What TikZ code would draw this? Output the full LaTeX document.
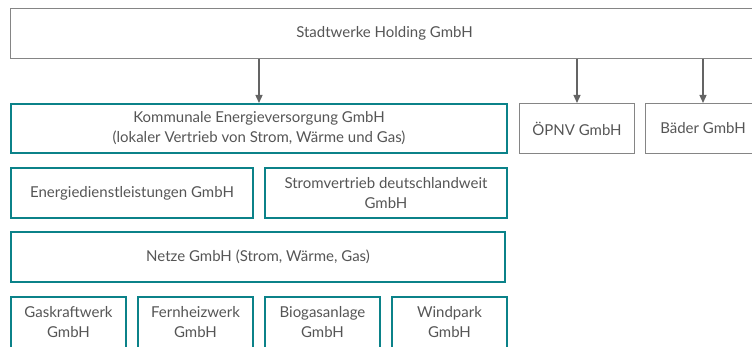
\documentclass[tikz,border=0pt]{standalone}
\usepackage{fontspec}
\setmainfont{Lato}
\usetikzlibrary{%
	positioning,
	arrows.meta
}
\definecolor{tealline}{HTML}{0B8289}
\definecolor{grayline}{HTML}{858585}
\definecolor{arrowgray}{HTML}{646464}
\definecolor{textgray}{HTML}{555555}

\begin{document}
\begin{tikzpicture}[x=1pt,y=1pt,
		SBox/.style={draw,shape=rectangle,text=textgray,font=\fontsize{15}{20}\selectfont,align=center,inner sep=0pt,minimum height=50pt},
		SGroup/.style={SBox,draw=grayline,line width=1pt},
		SEnergy/.style={SBox,draw=tealline,line width=2pt},
		SPlant/.style={SEnergy,minimum width=115pt,minimum height=60pt,text depth=10pt},
		link/.style={draw=arrowgray,line width=1.3pt,-{Triangle[length=8pt,width=7pt]}}
	]
	\useasboundingbox (0,0) rectangle (752,-347);

	%Holding
	\node(holding) [SGroup, minimum width=748pt, anchor=north west] at (10,-8) {Stadtwerke Holding GmbH};

	\node(kommunal) [SEnergy, minimum width=496pt, minimum height=49pt, below=44pt of holding.south west, anchor=north west] {Kommunale Energieversorgung GmbH\\(lokaler Vertrieb von Strom, Wärme und Gas)};
	\node(oepnv) [SGroup, minimum width=115pt, right=11pt of kommunal.north east, anchor=north west] {ÖPNV GmbH};
	\node(baeder) [SGroup, minimum width=115pt, right=10pt of oepnv.north east, anchor=north west] {Bäder GmbH};

	\draw [link] (holding.south -| kommunal.north) -- (kommunal.north);
	\draw [link] (holding.south -| oepnv.north) -- (oepnv.north);
	\draw [link] (holding.south -| baeder.north) -- (baeder.north);

	%Energie
	\node(dienst) [SEnergy, minimum width=242pt, below=13pt of kommunal.south west, anchor=north west] {Energiedienstleistungen GmbH};
	\node(strom) [SEnergy, minimum width=242pt, right=10pt of dienst.north east, anchor=north west] {Stromvertrieb deutschlandweit\\GmbH};
	\node(netze) [SEnergy, minimum width=494pt, below=12pt of dienst.south west, anchor=north west] {Netze GmbH (Strom, Wärme, Gas)};

	%Anlagen
	\node(gas) [SPlant, below=13pt of netze.south west, anchor=north west] {Gaskraftwerk\\GmbH};
	\node(fern) [SPlant, right=10pt of gas.north east, anchor=north west] {Fernheizwerk\\GmbH};
	\node(bio) [SPlant, right=10pt of fern.north east, anchor=north west] {Biogasanlage\\GmbH};
	\node(wind) [SPlant, right=10pt of bio.north east, anchor=north west] {Windpark\\GmbH};

\end{tikzpicture}
\end{document}
